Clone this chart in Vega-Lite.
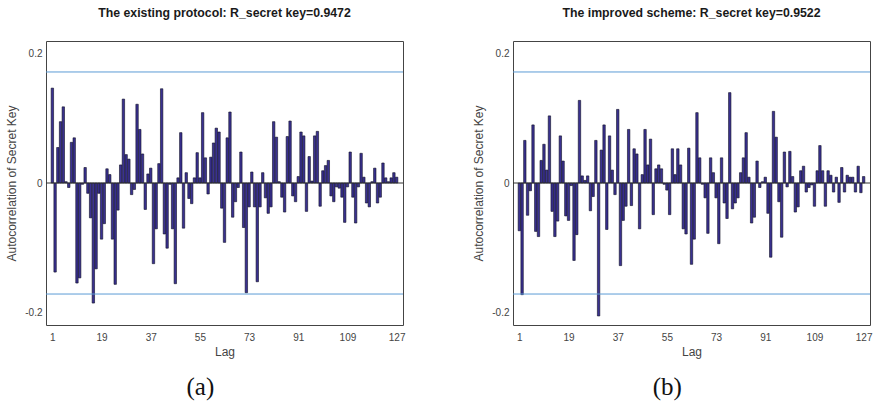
{
  "$schema": "https://vega.github.io/schema/vega-lite/v6.json",
  "padding": {"left": 5, "top": 6, "right": 4, "bottom": 2},
  "spacing": 66,
  "config": {
    "font": "Liberation Sans",
    "view": {"stroke": "#444444", "strokeWidth": 1},
    "axis": {"grid": false, "domain": false, "ticks": false, "labelFontSize": 10, "labelColor": "#444444", "titleFontSize": 12, "titleFontWeight": "normal", "titleColor": "#444444"}
  },
  "datasets": {
    "bounds": [{"b": 0.172}, {"b": -0.172}],
    "zero": [{"z": 0}],
    "a": [
      {"lag":1,"r":0.147},{"lag":2,"r":-0.138},{"lag":3,"r":0.055},{"lag":4,"r":0.095},{"lag":5,"r":0.118},{"lag":6,"r":0.002},{"lag":7,"r":-0.007},{"lag":8,"r":0.063},{"lag":9,"r":0.070},{"lag":10,"r":-0.155},
      {"lag":11,"r":-0.147},{"lag":12,"r":-0.002},{"lag":13,"r":0.024},{"lag":14,"r":-0.016},{"lag":15,"r":-0.054},{"lag":16,"r":-0.186},{"lag":17,"r":-0.133},{"lag":18,"r":-0.016},{"lag":19,"r":-0.087},{"lag":20,"r":-0.063},
      {"lag":21,"r":0.022},{"lag":22,"r":0.013},{"lag":23,"r":-0.087},{"lag":24,"r":-0.157},{"lag":25,"r":-0.042},{"lag":26,"r":0.028},{"lag":27,"r":0.130},{"lag":28,"r":0.044},{"lag":29,"r":0.037},{"lag":30,"r":-0.018},
      {"lag":31,"r":-0.010},{"lag":32,"r":0.122},{"lag":33,"r":0.083},{"lag":34,"r":0.045},{"lag":35,"r":-0.041},{"lag":36,"r":0.014},{"lag":37,"r":0.023},{"lag":38,"r":-0.125},{"lag":39,"r":-0.071},{"lag":40,"r":0.030},
      {"lag":41,"r":0.146},{"lag":42,"r":-0.079},{"lag":43,"r":-0.101},{"lag":44,"r":-0.002},{"lag":45,"r":-0.071},{"lag":46,"r":-0.156},{"lag":47,"r":0.008},{"lag":48,"r":0.078},{"lag":49,"r":-0.070},{"lag":50,"r":0.016},
      {"lag":51,"r":-0.024},{"lag":52,"r":-0.032},{"lag":53,"r":0.008},{"lag":54,"r":0.047},{"lag":55,"r":0.008},{"lag":56,"r":0.109},{"lag":57,"r":0.039},{"lag":58,"r":-0.017},{"lag":59,"r":0.040},{"lag":60,"r":0.062},
      {"lag":61,"r":0.085},{"lag":62,"r":0.079},{"lag":63,"r":-0.039},{"lag":64,"r":-0.092},{"lag":65,"r":0.070},{"lag":66,"r":0.110},{"lag":67,"r":-0.053},{"lag":68,"r":-0.029},{"lag":69,"r":-0.007},{"lag":70,"r":0.048},
      {"lag":71,"r":-0.069},{"lag":72,"r":-0.170},{"lag":73,"r":-0.037},{"lag":74,"r":0.017},{"lag":75,"r":-0.037},{"lag":76,"r":-0.153},{"lag":77,"r":-0.037},{"lag":78,"r":0.016},{"lag":79,"r":-0.023},{"lag":80,"r":-0.047},
      {"lag":81,"r":-0.037},{"lag":82,"r":0.095},{"lag":83,"r":0.071},{"lag":84,"r":0.002},{"lag":85,"r":-0.022},{"lag":86,"r":-0.045},{"lag":87,"r":0.072},{"lag":88,"r":0.096},{"lag":89,"r":-0.020},{"lag":90,"r":-0.029},
      {"lag":91,"r":0.010},{"lag":92,"r":0.079},{"lag":93,"r":0.073},{"lag":94,"r":-0.044},{"lag":95,"r":0.041},{"lag":96,"r":0.003},{"lag":97,"r":0.073},{"lag":98,"r":0.080},{"lag":99,"r":-0.036},{"lag":100,"r":0.019},
      {"lag":101,"r":0.027},{"lag":102,"r":0.035},{"lag":103,"r":-0.020},{"lag":104,"r":-0.029},{"lag":105,"r":-0.006},{"lag":106,"r":-0.008},{"lag":107,"r":-0.022},{"lag":108,"r":-0.061},{"lag":109,"r":-0.006},{"lag":110,"r":0.048},
      {"lag":111,"r":-0.022},{"lag":112,"r":-0.062},{"lag":113,"r":-0.006},{"lag":114,"r":0.046},{"lag":115,"r":0.009},{"lag":116,"r":-0.031},{"lag":117,"r":-0.037},{"lag":118,"r":0.002},{"lag":119,"r":0.023},{"lag":120,"r":-0.031},
      {"lag":121,"r":-0.022},{"lag":122,"r":0.031},{"lag":123,"r":0.008},{"lag":124,"r":0.002},{"lag":125,"r":0.008},{"lag":126,"r":0.016},{"lag":127,"r":0.009}
    ],
    "b": [
      {"lag":1,"r":-0.074},{"lag":2,"r":-0.173},{"lag":3,"r":0.066},{"lag":4,"r":-0.050},{"lag":5,"r":-0.012},{"lag":6,"r":0.090},{"lag":7,"r":-0.075},{"lag":8,"r":-0.083},{"lag":9,"r":0.035},{"lag":10,"r":0.060},
      {"lag":11,"r":0.020},{"lag":12,"r":0.104},{"lag":13,"r":-0.044},{"lag":14,"r":-0.083},{"lag":15,"r":-0.059},{"lag":16,"r":0.073},{"lag":17,"r":0.034},{"lag":18,"r":-0.051},{"lag":19,"r":-0.058},{"lag":20,"r":-0.004},
      {"lag":21,"r":-0.120},{"lag":22,"r":-0.080},{"lag":23,"r":0.128},{"lag":24,"r":0.011},{"lag":25,"r":0.004},{"lag":26,"r":0.011},{"lag":27,"r":-0.043},{"lag":28,"r":-0.021},{"lag":29,"r":0.066},{"lag":30,"r":-0.206},
      {"lag":31,"r":0.051},{"lag":32,"r":0.090},{"lag":33,"r":-0.072},{"lag":34,"r":0.073},{"lag":35,"r":0.020},{"lag":36,"r":-0.018},{"lag":37,"r":0.114},{"lag":38,"r":-0.128},{"lag":39,"r":-0.058},{"lag":40,"r":-0.036},
      {"lag":41,"r":0.083},{"lag":42,"r":-0.035},{"lag":43,"r":0.053},{"lag":44,"r":0.045},{"lag":45,"r":-0.071},{"lag":46,"r":0.013},{"lag":47,"r":0.083},{"lag":48,"r":0.028},{"lag":49,"r":0.068},{"lag":50,"r":-0.049},
      {"lag":51,"r":0.022},{"lag":52,"r":0.028},{"lag":53,"r":0.022},{"lag":54,"r":-0.002},{"lag":55,"r":-0.011},{"lag":56,"r":-0.049},{"lag":57,"r":0.053},{"lag":58,"r":0.013},{"lag":59,"r":0.053},{"lag":60,"r":0.028},
      {"lag":61,"r":-0.071},{"lag":62,"r":-0.079},{"lag":63,"r":0.054},{"lag":64,"r":-0.126},{"lag":65,"r":-0.087},{"lag":66,"r":0.109},{"lag":67,"r":0.039},{"lag":68,"r":-0.002},{"lag":69,"r":-0.023},{"lag":70,"r":-0.078},
      {"lag":71,"r":0.039},{"lag":72,"r":0.016},{"lag":73,"r":-0.023},{"lag":74,"r":-0.094},{"lag":75,"r":0.039},{"lag":76,"r":-0.031},{"lag":77,"r":-0.055},{"lag":78,"r":0.140},{"lag":79,"r":-0.040},{"lag":80,"r":-0.031},
      {"lag":81,"r":-0.023},{"lag":82,"r":0.016},{"lag":83,"r":0.039},{"lag":84,"r":0.078},{"lag":85,"r":0.009},{"lag":86,"r":-0.062},{"lag":87,"r":-0.053},{"lag":88,"r":0.034},{"lag":89,"r":-0.007},{"lag":90,"r":0.002},
      {"lag":91,"r":0.009},{"lag":92,"r":-0.047},{"lag":93,"r":-0.115},{"lag":94,"r":0.111},{"lag":95,"r":0.071},{"lag":96,"r":-0.029},{"lag":97,"r":-0.084},{"lag":98,"r":0.048},{"lag":99,"r":-0.006},{"lag":100,"r":0.049},
      {"lag":101,"r":0.010},{"lag":102,"r":-0.045},{"lag":103,"r":-0.037},{"lag":104,"r":0.019},{"lag":105,"r":0.026},{"lag":106,"r":-0.014},{"lag":107,"r":-0.007},{"lag":108,"r":-0.003},{"lag":109,"r":-0.036},{"lag":110,"r":0.019},
      {"lag":111,"r":0.058},{"lag":112,"r":0.019},{"lag":113,"r":-0.036},{"lag":114,"r":0.019},{"lag":115,"r":0.012},{"lag":116,"r":-0.014},{"lag":117,"r":0.009},{"lag":118,"r":-0.030},{"lag":119,"r":0.024},{"lag":120,"r":-0.014},
      {"lag":121,"r":0.012},{"lag":122,"r":0.009},{"lag":123,"r":0.009},{"lag":124,"r":-0.014},{"lag":125,"r":0.026},{"lag":126,"r":-0.015},{"lag":127,"r":0.010}
    ]
  },
  "hconcat": [
    {
      "title": {"text": "(a)", "orient": "bottom", "anchor": "middle", "dx": -5, "font": "Liberation Serif", "fontSize": 25, "fontWeight": "normal", "color": "#111111", "offset": 17.5},
      "vconcat": [
        {
          "width": 357,
          "height": 284,
          "title": {"text": "The existing protocol: R_secret key=0.9472", "frame": "group", "anchor": "middle", "font": "Liberation Sans", "fontSize": 12.3, "fontWeight": "bold", "color": "#1a1a1a", "offset": 21.7},
          "layer": [
            {
              "data": {"name": "a"},
              "mark": {"type": "bar", "size": 2.4, "fill": "#3a3190", "stroke": "#0e0e24", "strokeWidth": 0.6},
              "encoding": {
                "x": {"field": "lag", "type": "quantitative", "scale": {"domain": [0.5, 127.5], "nice": false, "zero": false},
                  "axis": {"values": [1, 19, 37, 55, 73, 91, 109, 127], "labelPadding": 7, "labelFlush": false, "labelOverlap": false, "title": "Lag", "titlePadding": 4}},
                "y": {"field": "r", "type": "quantitative", "scale": {"domain": [-0.22, 0.22], "nice": false},
                  "axis": {"values": [-0.2, 0, 0.2], "labelExpr": "datum.value > 0.1 ? '0.2' : (datum.value < -0.1 ? '-0.2' : '0')", "labelPadding": 4, "title": "Autocorrelation of Secret Key", "titlePadding": 6}}
              }
            },
            {
              "data": {"name": "zero"},
              "mark": {"type": "rule", "color": "#333333", "strokeWidth": 1},
              "encoding": {"y": {"field": "z", "type": "quantitative"}}
            },
            {
              "data": {"name": "bounds"},
              "mark": {"type": "rule", "color": "#5b9bd5", "strokeWidth": 1},
              "encoding": {"y": {"field": "b", "type": "quantitative"}}
            }
          ]
        }
      ]
    },
    {
      "title": {"text": "(b)", "orient": "bottom", "anchor": "middle", "dx": -5, "font": "Liberation Serif", "fontSize": 25, "fontWeight": "normal", "color": "#111111", "offset": 17.5},
      "vconcat": [
        {
          "width": 357,
          "height": 284,
          "title": {"text": "The improved scheme: R_secret key=0.9522", "frame": "group", "anchor": "middle", "font": "Liberation Sans", "fontSize": 12.3, "fontWeight": "bold", "color": "#1a1a1a", "offset": 21.7},
          "layer": [
            {
              "data": {"name": "b"},
              "mark": {"type": "bar", "size": 2.4, "fill": "#3a3190", "stroke": "#0e0e24", "strokeWidth": 0.6},
              "encoding": {
                "x": {"field": "lag", "type": "quantitative", "scale": {"domain": [0.5, 127.5], "nice": false, "zero": false},
                  "axis": {"values": [1, 19, 37, 55, 73, 91, 109, 127], "labelPadding": 7, "labelFlush": false, "labelOverlap": false, "title": "Lag", "titlePadding": 4}},
                "y": {"field": "r", "type": "quantitative", "scale": {"domain": [-0.22, 0.22], "nice": false},
                  "axis": {"values": [-0.2, 0, 0.2], "labelExpr": "datum.value > 0.1 ? '0.2' : (datum.value < -0.1 ? '-0.2' : '0')", "labelPadding": 4, "title": "Autocorrelation of Secret Key", "titlePadding": 6}}
              }
            },
            {
              "data": {"name": "zero"},
              "mark": {"type": "rule", "color": "#333333", "strokeWidth": 1},
              "encoding": {"y": {"field": "z", "type": "quantitative"}}
            },
            {
              "data": {"name": "bounds"},
              "mark": {"type": "rule", "color": "#5b9bd5", "strokeWidth": 1},
              "encoding": {"y": {"field": "b", "type": "quantitative"}}
            }
          ]
        }
      ]
    }
  ]
}
